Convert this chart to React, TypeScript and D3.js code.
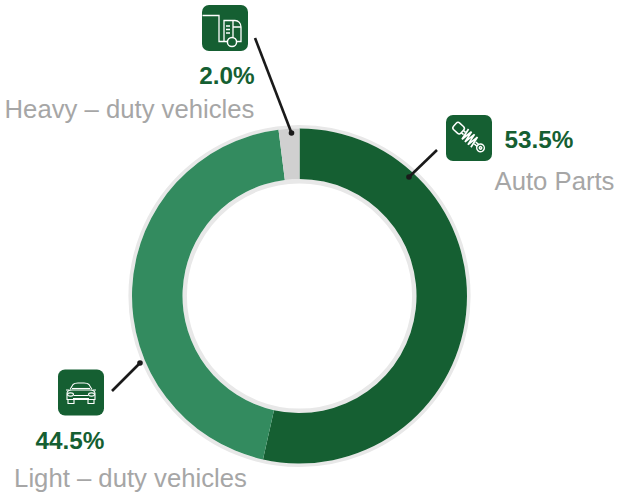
import React from "react";
import * as d3 from "d3";

const categories = ["Auto Parts", "Light – duty vehicles", "Heavy – duty vehicles"];
const shares = [53.5, 44.5, 2.0];
const sliceColors = ["#155f32", "#338b5f", "#d0d0d0"];
const labelTexts = ["53.5%", "44.5%", "2.0%"];

const W = 618, H = 495, CX = 299.5, CY = 296, R = 167.5, r = 117;
const font = "Liberation Sans, Arial, sans-serif";
const green = "#155f32";

function Icon({ x, y, kind }: { x: number; y: number; kind: string }) {
  const s = { fill: "none", stroke: "#fff", strokeWidth: 1.3 } as const;
  return (
    <g transform={`translate(${x},${y})`}>
      <rect width={46} height={46} rx={7} fill={green} />
      {kind === "truck" && (
        <g {...s}>
          <path d="M0.5 10.5H17V36.5H25.5" />
          <path d="M22 36.5V15.5H33C36.5 15.5 39 18.5 39 22V36.5H35" />
          <path d="M31 15.5V32.5M31 22H39" />
          <path d="M24 21H28M24 24.5H28M24 28H28" />
          <circle cx={30} cy={37} r={4.6} strokeWidth={1.5} />
        </g>
      )}
      {kind === "shock" && (
        <g {...s}>
          <g transform="translate(23,22.5) rotate(42)" strokeWidth={1.5}>
            <rect x={-19} y={-4.5} width={10} height={9} rx={2.5} />
            <path d="M-9 -1.5H-6M-9 1.5H-6" />
            <path d="M-6 -6L-4 6L-2 -6L0 6L2 -6L4 6L6 -6L8 6" strokeWidth={1.7} />
            <path d="M8 -1.2H12M8 1.2H12" />
            <circle cx={15.5} cy={0} r={3.8} />
            <circle cx={15.5} cy={0} r={1.2} />
          </g>
        </g>
      )}
      {kind === "car" && (
        <g {...s} strokeWidth={1.1}>
          <path d="M12 20L15 15C16 14 18 13.5 20 13.5H26C28 13.5 30 14 31 15L34 20" />
          <path d="M14 19H32" />
          <path d="M9 24C9 22 11 20.5 14 20.5H32C35 20.5 37 22 37 24V30H9Z" />
          <path d="M10 30V34H16V30M30 30V34H36V30" />
          <path d="M16 26H30M15 29H31" />
          <ellipse cx={12.5} cy={25} rx={3} ry={1.6} />
          <ellipse cx={33.5} cy={25} rx={3} ry={1.6} />
          <path d="M8 20.5H11M35 20.5H38" />
        </g>
      )}
    </g>
  );
}

function Leader({ x1, y1, x2, y2 }: { x1: number; y1: number; x2: number; y2: number }) {
  return (
    <g>
      <line x1={x1} y1={y1} x2={x2} y2={y2} stroke="#1a1a1a" strokeWidth={2.6} />
      <circle cx={x2} cy={y2} r={2.8} fill="#1a1a1a" />
    </g>
  );
}

export default function App() {
  const arcs = d3.pie<number>().sort(null).startAngle(0).endAngle(2 * Math.PI)(shares);
  const arc = d3.arc<d3.PieArcDatum<number>>().innerRadius(r).outerRadius(R);
  const pct = { fontFamily: font, fontSize: 24.3, fontWeight: 700, fill: green, textAnchor: "middle" } as const;
  const name = { fontFamily: font, fontSize: 25.7, fill: "#a6a6a6", textAnchor: "middle" } as const;
  return (
    <svg width={W} height={H} style={{ position: "absolute", left: 0, top: 0 }}>
      <rect width={W} height={H} fill="#fff" />
      <g transform={`translate(${CX},${CY})`}>
        <circle r={R + 1.8} fill="none" stroke="#e8e8e8" strokeWidth={3.6} />
        <circle r={r - 2.2} fill="none" stroke="#e8e8e8" strokeWidth={4.4} />
        {arcs.map((d, i) => (
          <path key={categories[i]} d={arc(d) ?? ""} fill={sliceColors[i]} />
        ))}
      </g>
      <Leader x1={255} y1={38} x2={291.5} y2={133} />
      <Leader x1={437} y1={150} x2={409} y2={177} />
      <Leader x1={112} y1={391} x2={140} y2={363} />
      <Icon x={202} y={5} kind="truck" />
      <Icon x={446} y={115} kind="shock" />
      <Icon x={58} y={369.5} kind="car" />
      <text x={539} y={148} {...pct}>{labelTexts[0]}</text>
      <text x={554.5} y={190} {...name}>{categories[0]}</text>
      <text x={70} y={449} {...pct}>{labelTexts[1]}</text>
      <text x={130.5} y={487} {...name}>{categories[1]}</text>
      <text x={227} y={84} {...pct}>{labelTexts[2]}</text>
      <text x={129.5} y={118} {...name}>{categories[2]}</text>
    </svg>
  );
}
